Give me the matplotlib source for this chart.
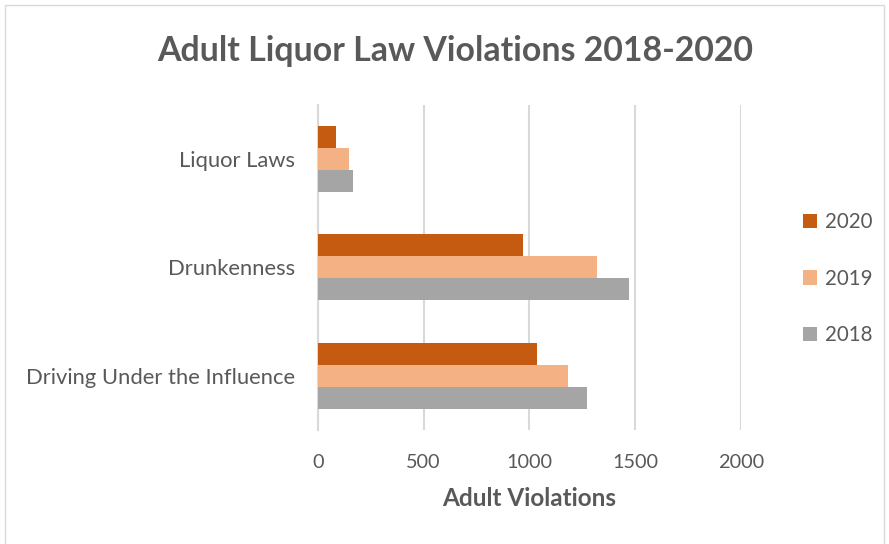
import numpy as np
import matplotlib
matplotlib.use("Agg")
import matplotlib.pyplot as plt
from matplotlib.patches import Rectangle

# violation counts per category (bottom to top on the chart)
categories = ["Driving Under the Influence", "Drunkenness", "Liquor Laws"]
v2018 = [1274, 1472, 167]
v2019 = [1183, 1322, 146]
v2020 = [1037, 968, 85]

colors = {"2020": "#C55A11", "2019": "#F4B183", "2018": "#A5A5A5"}
text_col = "#595959"

plt.rcParams["font.family"] = ["Lato", "DejaVu Sans"]

fig = plt.figure(figsize=(8.89, 5.44), dpi=100)
ax = fig.add_axes([0.3574, 0.2096, 0.4761, 0.5983])

y = np.arange(len(categories))
h = 0.203
ax.barh(y - h, v2018, height=h, color=colors["2018"], label="2018", zorder=3)
ax.barh(y, v2019, height=h, color=colors["2019"], label="2019", zorder=3)
ax.barh(y + h, v2020, height=h, color=colors["2020"], label="2020", zorder=3)

ax.set_xlim(0, 2000)
ax.set_ylim(-0.5, 2.5)
ax.set_xticks([0, 500, 1000, 1500, 2000])
ax.set_yticks(y)
ax.set_yticklabels(categories)
ax.grid(axis="x", color="#d9d9d9", linewidth=1.5, zorder=0)
for s in ["top", "right", "bottom"]:
    ax.spines[s].set_visible(False)
ax.spines["left"].set_color("#d9d9d9")
ax.spines["left"].set_linewidth(1.5)
ax.tick_params(length=0, labelcolor=text_col)
ax.tick_params(axis="x", pad=17.5, labelsize=14.3)
ax.tick_params(axis="y", pad=16.5, labelsize=15.8)

ax.set_xlabel("Adult Violations", fontsize=17.5, fontweight="bold", color=text_col, labelpad=11)
fig.text(0.512, 0.907, "Adult Liquor Law Violations 2018-2020", ha="center", va="center",
         fontsize=24.4, fontweight="bold", color=text_col)

handles, labels = ax.get_legend_handles_labels()
fig.legend(handles[::-1], labels[::-1], loc="center left", bbox_to_anchor=(0.894, 0.488),
           frameon=False, fontsize=14.8, labelcolor=text_col, handlelength=0.7,
           handleheight=0.7, handletextpad=0.35, labelspacing=1.78, borderaxespad=0)

# outer chart border
fig.patches.append(Rectangle((5 / 889, -0.01), 879 / 889, 1 - 5 / 544 + 0.01,
                             transform=fig.transFigure, fill=False,
                             edgecolor="#d9d9d9", linewidth=1))

fig.savefig("out.png", dpi=100)
